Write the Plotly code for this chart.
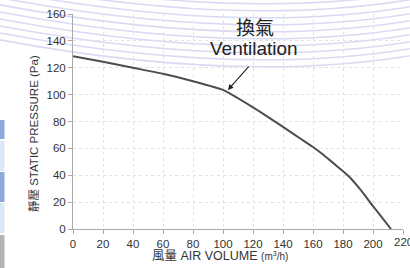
import plotly.graph_objects as go

# Data
air_volume = [0, 20, 40, 60, 80, 100, 120, 140, 152, 160, 166, 172, 180, 185, 190, 195, 200, 205, 212]
static_pressure = [128.5, 124.5, 120, 115.5, 110, 103.5, 90.5, 76, 67, 61, 56, 50.5, 43, 38, 31.5, 24.5, 17, 10, 0]
x_ticks = [0, 20, 40, 60, 80, 100, 120, 140, 160, 180, 200, 220]
y_ticks = [0, 20, 40, 60, 80, 100, 120, 140, 160]
label_cn = "換氣"
label_en = "Ventilation"
x_title = "風量 AIR VOLUME <span style='font-size:10px'>(m<sup>3</sup>/h)</span>"
y_title = "靜壓 STATIC PRESSURE (Pa)"

W, H = 410, 268
L, R, T, B = 73, 7, 14, 39
pw, ph = W - L - R, H - T - B

def px(x):
    return (x - L) / pw

def py(y):
    return (H - B - y) / ph

fig = go.Figure()
fig.add_trace(go.Scatter(
    x=air_volume, y=static_pressure, mode="lines",
    line=dict(color="#4d4d4d", width=2, shape="spline", smoothing=0.5),
    hoverinfo="skip", showlegend=False, cliponaxis=False,
))

shapes = []
# decorative lavender swoosh lines
for i in range(10):
    y0 = -25 + 7 * i
    p0 = (-10, y0)
    c = (240, y0 + 48)
    p1 = (420, y0 + 16)
    path = "M {:.4f},{:.4f} Q {:.4f},{:.4f} {:.4f},{:.4f}".format(
        px(p0[0]), py(p0[1]), px(c[0]), py(c[1]), px(p1[0]), py(p1[1]))
    shapes.append(dict(type="path", xref="paper", yref="paper", path=path,
                       line=dict(color="rgba(170,170,228,0.45)", width=1.5), layer="below"))

# left-edge page blocks
blocks = [(120, 139, "#8ea8dc"), (141, 171, "#dbe9f7"), (172, 202, "#8ea8dc"),
          (203, 233, "#dbe9f7"), (235, 268, "#b4b4b8")]
for y0, y1, col in blocks:
    shapes.append(dict(type="rect", xref="paper", yref="paper",
                       x0=px(0), x1=px(4.5), y0=py(y1), y1=py(y0),
                       fillcolor=col, line=dict(width=0), layer="below"))

tick_font = dict(size=11.5, color="#333333")

fig.update_layout(
    width=W, height=H,
    margin=dict(l=L, r=R, t=T, b=B, autoexpand=False),
    paper_bgcolor="white", plot_bgcolor="white",
    font=dict(family="Liberation Sans, Arial, 'Noto Sans CJK TC'", color="#333333", size=11),
    shapes=shapes,
    xaxis=dict(
        range=[0, 220], tickvals=x_ticks, showgrid=True, gridcolor="#e2e2e2", gridwidth=1,
        griddash="dot", zeroline=False, showline=True, linecolor="#aaaaaa", linewidth=1,
        ticks="outside", ticklen=4, tickcolor="#aaaaaa", automargin=False,
        tickfont=tick_font,
    ),
    yaxis=dict(
        range=[0, 160], tickvals=y_ticks, showgrid=True, gridcolor="#e2e2e2", gridwidth=1,
        griddash="dot", zeroline=False, showline=True, linecolor="#aaaaaa", linewidth=1,
        ticks="outside", ticklen=4, tickcolor="#aaaaaa", automargin=False,
        tickfont=tick_font,
    ),
    annotations=[
        # last x tick label, cut by the window edge as in the reference
        dict(x=x_ticks[-1], y=0, xref="x", yref="paper", text=str(x_ticks[-1]), showarrow=False,
             xanchor="center", yanchor="top", yshift=-5, font=tick_font),
        dict(x=px(220), y=py(256), xref="paper", yref="paper", text=x_title, showarrow=False,
             xanchor="center", yanchor="middle", font=dict(size=12.5, color="#333333")),
        dict(x=px(33), y=py(134), xref="paper", yref="paper", text=y_title, showarrow=False,
             textangle=-90, xanchor="center", yanchor="middle", font=dict(size=11.5, color="#333333")),
        dict(x=121, y=149.5, xref="x", yref="y", text=label_cn, showarrow=False,
             font=dict(size=19, color="#222222")),
        dict(x=120.5, y=134.5, xref="x", yref="y", text=label_en, showarrow=False,
             font=dict(size=19, color="#222222")),
        dict(x=103.3, y=103.4, xref="x", yref="y", ax=118, ay=122, axref="x", ayref="y",
             text="", showarrow=True, arrowhead=2, arrowsize=1, arrowwidth=1.1,
             arrowcolor="#222222"),
    ],
)

fig.write_html("out.html", config={"displayModeBar": False},
               post_script="document.body.style.margin='0';document.body.style.overflow='hidden';")
